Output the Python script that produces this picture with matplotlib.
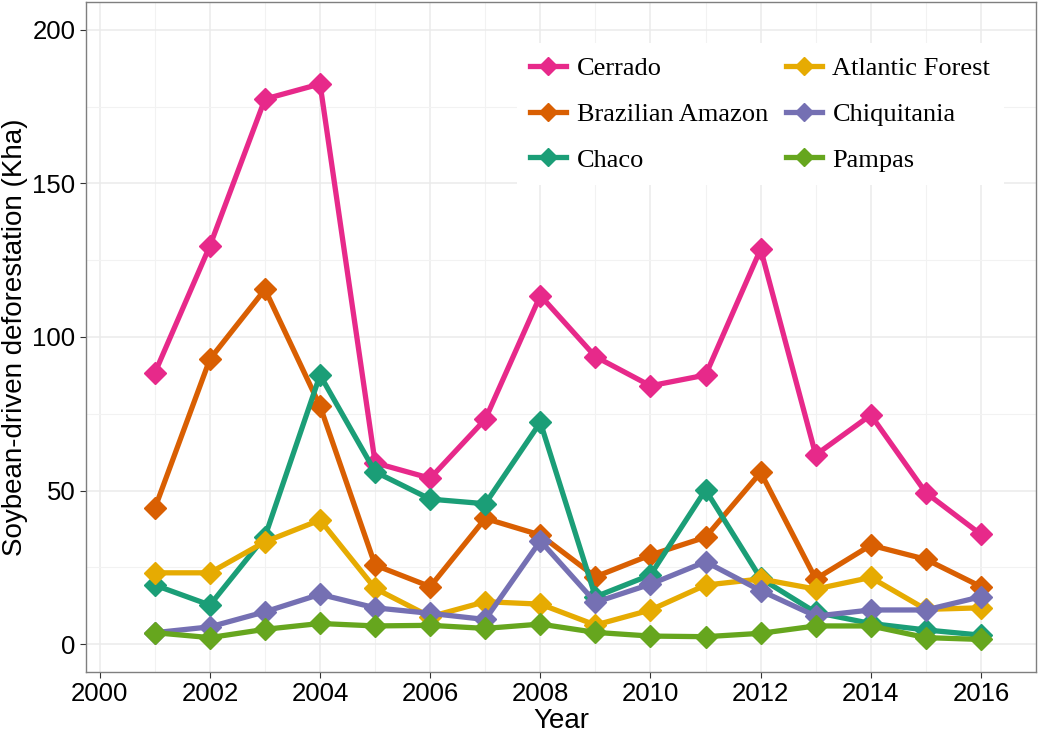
import numpy as np
import matplotlib
matplotlib.use("Agg")
import matplotlib.pyplot as plt
from matplotlib.ticker import MultipleLocator

plt.rcParams["font.family"] = ["Liberation Sans", "DejaVu Sans"]

years = list(range(2001, 2017))

cerrado = [88.3, 129.7, 177.5, 182.4, 59.0, 54.0, 73.2, 113.5, 93.6, 84.1, 87.6, 128.6, 61.6, 74.6, 49.3, 35.7]
amazon = [44.2, 92.8, 115.5, 77.5, 25.7, 18.7, 40.9, 35.5, 21.9, 29.0, 34.8, 55.9, 21.2, 32.2, 27.6, 18.7]
chaco = [19.2, 12.7, 35.0, 87.6, 56.1, 47.2, 45.7, 72.2, 15.4, 22.5, 50.2, 21.4, 10.3, 6.7, 4.6, 2.9]
atlantic = [23.2, 23.2, 33.3, 40.4, 18.1, 8.9, 13.8, 13.0, 6.2, 11.1, 19.2, 21.2, 17.9, 21.7, 11.3, 11.8]
chiquitania = [3.7, 5.6, 10.5, 16.2, 11.8, 10.0, 8.0, 33.6, 13.6, 19.5, 26.8, 17.4, 9.1, 11.1, 11.1, 15.4]
pampas = [3.7, 2.1, 4.8, 6.7, 5.9, 6.1, 5.1, 6.5, 3.8, 2.6, 2.4, 3.5, 5.9, 5.9, 2.1, 1.5]

names = ["Cerrado", "Brazilian Amazon", "Chaco", "Atlantic Forest", "Chiquitania", "Pampas"]
series = [cerrado, amazon, chaco, atlantic, chiquitania, pampas]
colors = ["#E7298A", "#D95F02", "#1B9E77", "#E6AB02", "#7570B3", "#66A61E"]

fig = plt.figure(figsize=(10.5, 7.35), dpi=100)
ax = fig.add_axes([86/1050, 1 - 672/735, 950/1050, 670/735])

for name, vals, c in zip(names, series, colors):
    ax.plot(years, vals, color=c, lw=3.8, marker="D", markersize=11, label=name)

ax.set_xlim(1999.75, 2017.0)
ax.set_ylim(-9.1, 209.1)
ax.xaxis.set_major_locator(MultipleLocator(2))
ax.xaxis.set_minor_locator(MultipleLocator(1))
ax.yaxis.set_major_locator(MultipleLocator(50))
ax.yaxis.set_minor_locator(MultipleLocator(25))
ax.grid(which="major", color="#EBEBEB", lw=1.1)
ax.grid(which="minor", color="#F2F2F2", lw=0.8)
ax.set_axisbelow(True)
for s in ax.spines.values():
    s.set_color("#7F7F7F")
    s.set_linewidth(1.0)
ax.tick_params(which="major", length=4, color="#333333", labelsize=18.5, labelcolor="black")
ax.tick_params(which="minor", length=0)

ax.set_xlabel("Year", fontsize=20, labelpad=1)
ax.set_ylabel("Soybean-driven deforestation (Kha)", fontsize=20, labelpad=3)

leg = ax.legend(ncol=2, loc="upper left", bbox_to_anchor=(504/1050, 1 - 30/735),
                bbox_transform=fig.transFigure, frameon=True, fancybox=False,
                prop={"family": "Liberation Serif", "size": 19}, markerscale=0.8,
                handlelength=1.35, handletextpad=0.4, columnspacing=0.7,
                labelspacing=0.85, borderpad=0.5)
leg.get_frame().set_facecolor("white")
leg.get_frame().set_edgecolor("none")
leg.get_frame().set_alpha(1)

fig.savefig("out.png", dpi=100)
